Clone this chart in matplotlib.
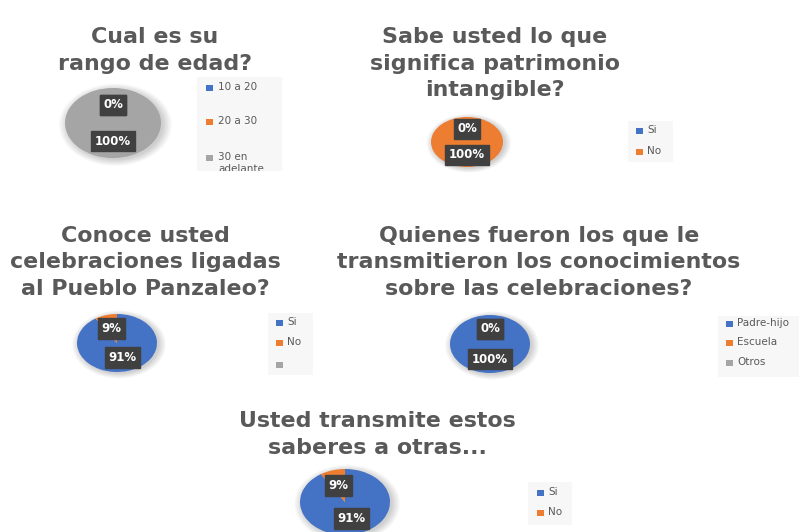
import matplotlib
matplotlib.use("Agg")
import matplotlib.pyplot as plt
from matplotlib.patches import Ellipse, Rectangle

W, H = 799, 532
BLUE, ORANGE, GRAY = "#4472C4", "#ED7D31", "#A5A5A5"
TITLE_COLOR = "#595959"
FONT = "DejaVu Sans"

# Survey answers (percent)
edad_categories = ["10 a 20", "20 a 30", "30 en\nadelante"]
edad_values = [0, 0, 100]

sabe_categories = ["Si", "No"]
sabe_values = [0, 100]

conoce_categories = ["Si", "No", ""]
conoce_values = [91, 9]

quienes_categories = ["Padre-hijo", "Escuela", "Otros"]
quienes_values = [100, 0, 0]

transmite_categories = ["Si", "No"]
transmite_values = [91, 9]

titles = [
    "Cual es su\nrango de edad?",
    "Sabe usted lo que\nsignifica patrimonio\nintangible?",
    "Conoce usted\ncelebraciones ligadas\nal Pueblo Panzaleo?",
    "Quienes fueron los que le\ntransmitieron los conocimientos\nsobre las celebraciones?",
    "Usted transmite estos\nsaberes a otras...",
]

fig = plt.figure(figsize=(W / 100, H / 100), dpi=100)
fig.patch.set_facecolor("white")


def px_axes(x0, y0, x1, y1):
    """Axes from pixel box (top-left origin)."""
    return fig.add_axes([x0 / W, 1 - y1 / H, (x1 - x0) / W, (y1 - y0) / H])


def draw_title(text, cx, first_baseline):
    for i, line in enumerate(text.split("\n")):
        y = first_baseline + 26.5 * i
        fig.text(cx / W, 1 - y / H, line, ha="center", va="baseline",
                 fontsize=15.9, fontweight="bold", family=FONT,
                 color=TITLE_COLOR)


def draw_pie(values, cx, cy, rx, ry):
    ax = px_axes(cx - rx, cy - ry, cx + rx, cy + ry)
    ax.set_axis_off()
    # soft drop shadow
    for k in range(8):
        r = 1.0 + 0.025 * k
        ax.add_patch(Ellipse((0.05, -0.05), 2 * r, 2 * r, facecolor="black",
                             edgecolor="none", alpha=0.022, zorder=0,
                             clip_on=False))
    colors = [BLUE, ORANGE, GRAY][: len(values)]
    wedges, _, autotexts = ax.pie(
        values, colors=colors, startangle=90, counterclock=False,
        autopct=lambda p: f"{p:.0f}%", pctdistance=0.52, radius=1.0,
        wedgeprops=dict(linewidth=0, zorder=2),
        textprops=dict(color="white", fontsize=8.5, fontweight="bold",
                       family=FONT))
    for t in autotexts:
        t.set_zorder(5)
        t.set_bbox(dict(boxstyle="square,pad=0.3", facecolor="#404040",
                        edgecolor="#404040"))
    ax.set_aspect("auto")
    ax.set_xlim(-1, 1)
    ax.set_ylim(-1, 1)
    return ax


def draw_legend(categories, box, marker_x, text_x, ys):
    x0, y0, x1, y1 = box
    ax = px_axes(x0, y0, x1, y1)
    ax.set_xlim(x0, x1)
    ax.set_ylim(y1, y0)
    ax.set_facecolor("#F7F7F7")
    for s in ax.spines.values():
        s.set_visible(False)
    ax.set_xticks([])
    ax.set_yticks([])
    colors = [BLUE, ORANGE, GRAY]
    for cat, col, y in zip(categories, colors, ys):
        ax.add_patch(Rectangle((marker_x - 3.5, y - 3), 7, 6, facecolor=col,
                               edgecolor="none"))
        ax.text(text_x, y - 6, cat, va="top", ha="left", fontsize=7.5,
                family=FONT, color=TITLE_COLOR, linespacing=1.3,
                clip_on=True)


# Chart 1
draw_title(titles[0], 155, 43)
draw_pie(edad_values, 113, 123, 48, 35)
draw_legend(edad_categories, (197, 77, 282, 171), 209, 218, [88, 122, 158])

# Chart 2
draw_title(titles[1], 495, 43)
draw_pie(sabe_values, 467, 142, 36, 25)
draw_legend(sabe_categories, (628, 121, 673, 162), 639, 647, [131, 152])

# Chart 3
draw_title(titles[2], 145, 242)
draw_pie(conoce_values, 117, 343, 40, 29)
draw_legend(conoce_categories, (268, 313, 313, 375), 279, 287, [323, 343, 365])

# Chart 4
draw_title(titles[3], 539, 242)
draw_pie(quienes_values, 490, 344, 40, 29)
draw_legend(quienes_categories, (718, 316, 799, 377), 729, 737, [324, 343, 363])

# Chart 5
draw_title(titles[4], 377, 427)
draw_pie(transmite_values, 345, 502, 45, 33)
draw_legend(transmite_categories, (528, 482, 572, 525), 540, 548, [493, 513])

fig.savefig("out.png", dpi=100, facecolor="white")
